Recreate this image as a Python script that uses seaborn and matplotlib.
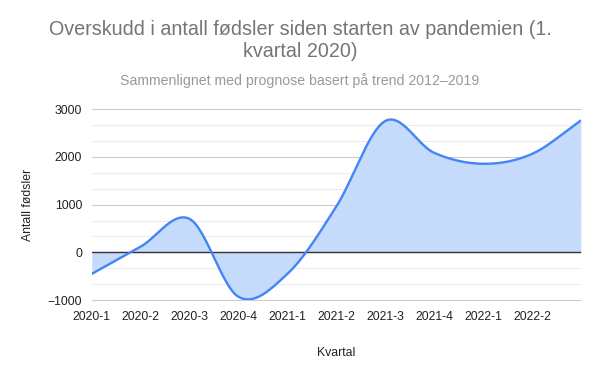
import numpy as np
import pandas as pd
import seaborn as sns
import matplotlib.pyplot as plt

# Quarterly values
quarters = ['2020-1', '2020-2', '2020-3', '2020-4', '2021-1', '2021-2',
            '2021-3', '2021-4', '2022-1', '2022-2', '2022-3']
surplus = [-450, 120, 700, -930, -450, 960, 2750, 2085, 1855, 2060, 2760]
tick_labels = quarters[:-1]

title = 'Overskudd i antall fødsler siden starten av pandemien (1.\nkvartal 2020)'
subtitle = 'Sammenlignet med prognose basert på trend 2012\u20132019'


def smooth(x, y, n=30):
    '''Catmull-Rom curve through the points (look of a smoothed line chart)'''
    x = np.asarray(x, float)
    y = np.asarray(y, float)
    px = np.concatenate([[2 * x[0] - x[1]], x, [2 * x[-1] - x[-2]]])
    py = np.concatenate([[2 * y[0] - y[1]], y, [2 * y[-1] - y[-2]]])
    xs, ys = [], []
    t = np.linspace(0, 1, n, endpoint=False)
    for i in range(1, len(px) - 2):
        for p, out in ((px, xs), (py, ys)):
            p0, p1, p2, p3 = p[i - 1], p[i], p[i + 1], p[i + 2]
            out.append(0.5 * ((2 * p1) + (-p0 + p2) * t
                              + (2 * p0 - 5 * p1 + 4 * p2 - p3) * t ** 2
                              + (-p0 + 3 * p1 - 3 * p2 + p3) * t ** 3))
    xs.append([x[-1]])
    ys.append([y[-1]])
    return np.concatenate(xs), np.concatenate(ys)


sns.set_style('white')
plt.rcParams['font.family'] = ['Liberation Sans', 'DejaVu Sans']

df = pd.DataFrame({'kvartal': quarters, 'pos': np.arange(len(quarters)), 'fodsler': surplus})
sx, sy = smooth(df['pos'], df['fodsler'])
curve = pd.DataFrame({'pos': sx, 'fodsler': sy})

fig = plt.figure(figsize=(6, 3.71), dpi=100)
ax = fig.add_axes([0.153, 0.191, 0.815, 0.515])

blue = '#4285f4'
ax.fill_between(curve['pos'], 0, curve['fodsler'], color='#c6dafc', lw=0, zorder=1)
sns.lineplot(data=curve, x='pos', y='fodsler', color=blue, lw=1.7, ax=ax, zorder=3, sort=False)

ax.set_xlim(0, len(quarters) - 1)
ax.set_ylim(-1000, 3000)
ax.set_yticks([-1000, 0, 1000, 2000, 3000])
ax.set_yticklabels(['\u22121000', '0', '1000', '2000', '3000'])
ax.set_yticks(np.arange(-1000, 3001, 1000 / 3), minor=True)
ax.set_xticks(range(len(tick_labels)))
ax.set_xticklabels(tick_labels)
ax.grid(axis='y', which='major', color='#cccccc', lw=0.8, zorder=0)
ax.grid(axis='y', which='minor', color='#ebebeb', lw=0.8, zorder=0)
for gl in ax.get_ygridlines():
    gl.set_clip_on(False)
ax.axhline(0, color='#333333', lw=1, zorder=2)
ax.set_axisbelow(True)
for s in ax.spines.values():
    s.set_visible(False)
ax.tick_params(axis='both', which='both', length=0, labelsize=8.8, colors='#222222')
ax.tick_params(axis='y', pad=7)
ax.tick_params(axis='x', pad=8)

ax.set_xlabel('Kvartal', fontsize=8.8, color='#222222', labelpad=17)
ax.set_ylabel('Antall fødsler', fontsize=8.8, color='#222222', labelpad=10)

fig.text(0.5, 0.947, title, ha='center', va='top', fontsize=14.2, color='#757575', linespacing=1.2)
fig.text(0.5, 0.784, subtitle, ha='center', va='center', fontsize=10.2, color='#999999')

fig.savefig('out.png', dpi=100)
